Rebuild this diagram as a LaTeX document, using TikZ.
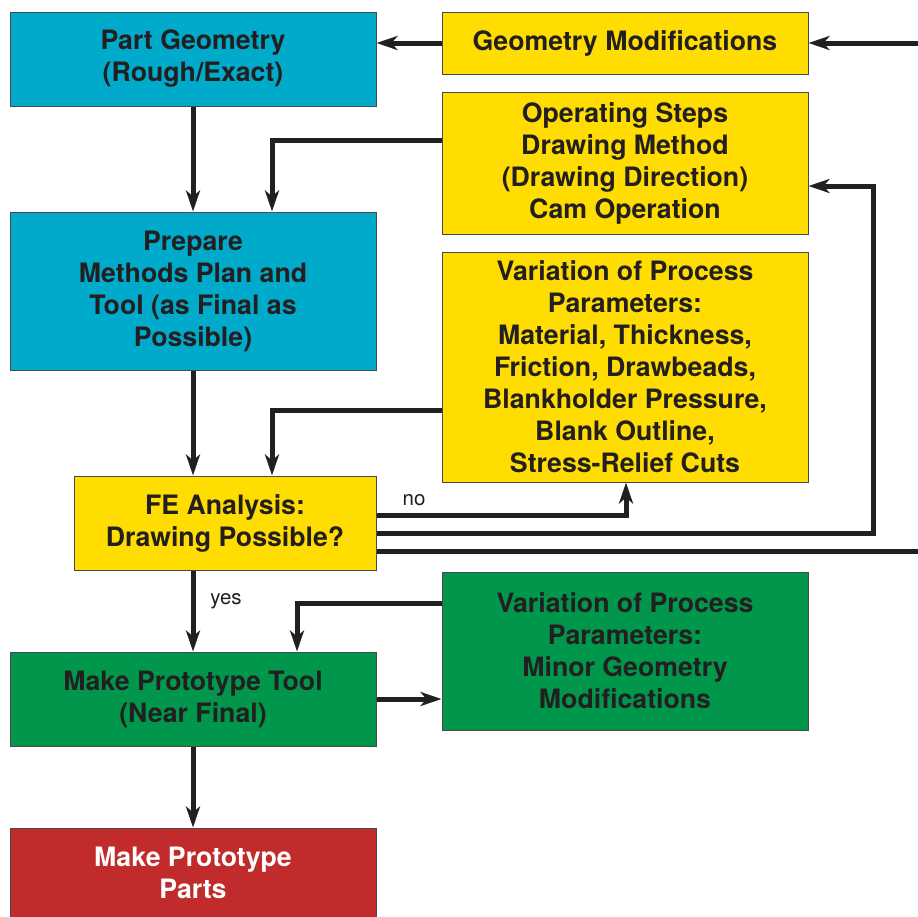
\documentclass[tikz,border=0pt]{standalone}
\usepackage{fontspec}
\setmainfont{TeX Gyre Heros}
\usetikzlibrary{arrows.meta,calc}
\definecolor{ink}{HTML}{231F20}
\definecolor{boxline}{HTML}{4A4A4A}
\definecolor{cyanbox}{HTML}{00AACB}
\definecolor{yellowbox}{HTML}{FFDD00}
\definecolor{greenbox}{HTML}{00974C}
\definecolor{redbox}{HTML}{C12B2B}
\tikzset{
  box/.style={draw=boxline, line width=1pt, text=ink, inner sep=0pt,
    font=\bfseries\fontsize{26.7}{32}\selectfont, align=center,
    minimum width=366pt},
  conn/.style={draw=ink, line width=5pt, line join=miter},
  arr/.style={conn, -{Stealth[length=21pt,width=14pt,inset=6pt]}},
  lbl/.style={text=ink, font=\fontsize{20.5}{24}\selectfont, inner sep=0pt}
}
\begin{document}
\begin{tikzpicture}[x=1pt,y=-1pt]
\useasboundingbox (0,0) rectangle (918,916);
\clip (0,0) rectangle (918,916);
\fill[white] (0,0) rectangle (918,916);

% left column
\node[box, fill=cyanbox, minimum height=94pt] (pg) at (193,59) {Part Geometry\\(Rough/Exact)};
\node[box, fill=cyanbox, minimum height=158pt] (prep) at (193,291) {Prepare\\Methods Plan and\\Tool (as Final as\\Possible)};
\node[box, fill=yellowbox, minimum height=94pt, minimum width=302pt] (fe) at (225,523) {FE Analysis:\\Drawing Possible?};
\node[box, fill=greenbox, minimum height=94pt] (mpt) at (193,699) {Make Prototype Tool\\(Near Final)};
\node[box, fill=redbox, minimum height=89pt, text=white] (mpp) at (193,872.5) {Make Prototype\\Parts};

% right column
\node[box, fill=yellowbox, minimum height=62pt] (gm) at (625,43) {Geometry Modifications};
\node[box, fill=yellowbox, minimum height=142pt] (os) at (625,163) {Operating Steps\\Drawing Method\\(Drawing Direction)\\Cam Operation};
\node[box, fill=yellowbox, minimum height=230pt] (var1) at (625,367) {Variation of Process\\Parameters:\\Material, Thickness,\\Friction, Drawbeads,\\Blankholder Pressure,\\Blank Outline,\\Stress-Relief Cuts};
\node[box, fill=greenbox, minimum height=158pt] (var2) at (625,651) {Variation of Process\\Parameters:\\Minor Geometry\\Modifications};

% free ends of the loop that runs off the right edge
\coordinate (edgeTop) at (918,43);
\coordinate (edgeBot) at (918,551);

% connectors
\draw[arr] (edgeTop) -- (gm.east);
\draw[arr] (gm.west) -- (gm.west -| pg.east);
\draw[arr] (pg.south) -- (prep.north);
\draw[arr] ($(os.west)+(0,-23)$) -| ($(prep.north)+(79,0)$);
\draw[arr] (prep.south) -- (prep.south |- fe.north);
\draw[arr] ($(var1.west)+(0,43)$) -| ($(prep.south |- fe.north)+(79,0)$);
\draw[arr] ($(fe.east)+(0,-8)$) -| ($(var1.south)+(1,0)$);
\draw[arr] ($(fe.east)+(0,10)$) -| ($(os.east)+(65,23)$) -- ($(os.east)+(0,23)$);
\draw[conn] ($(fe.east)+(0,28)$) -- (edgeBot);
\draw[arr] (fe.south -| mpt.north) -- (mpt.north);
\draw[arr] ($(var2.west)+(0,-48)$) -| ($(mpt.north)+(104,0)$);
\draw[arr] (mpt.east) -- (mpt.east -| var2.west);
\draw[arr] (mpt.south) -- (mpp.north);

% branch labels
\node[lbl] (nolbl) at (414,500) {no};
\node[lbl] (yeslbl) at (226,601) {yes};
\end{tikzpicture}
\end{document}
